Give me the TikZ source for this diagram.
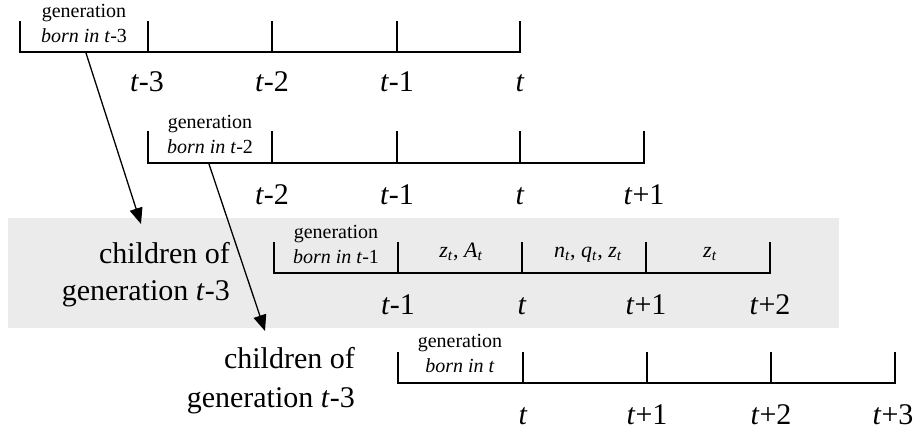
\documentclass[tikz,border=0pt]{standalone}
\usepackage{fontspec}
\setmainfont{Liberation Serif}
\usetikzlibrary{arrows.meta}
\definecolor{band}{RGB}{235,235,235}
\newcommand{\bigf}{\fontsize{30}{34}\selectfont}
\newcommand{\smallf}{\fontsize{20}{22}\selectfont}
\newcommand{\mathf}{\fontsize{22}{24}\selectfont}
\newcommand{\mvar}[2]{\textit{#1}\textsubscript{\textit{#2}}}
\begin{document}
\begin{tikzpicture}[x=1pt,y=-1pt,
  tl/.style={line width=1.6pt},
  arr/.style={line width=1.3pt,-{Triangle[length=16pt,width=13pt]}},
  big/.style={font=\bigf,anchor=base,inner sep=0pt},
  bigr/.style={font=\bigf,anchor=base east,inner sep=0pt},
  sm/.style={font=\smallf,anchor=base,inner sep=0pt},
  mth/.style={font=\mathf,anchor=base,inner sep=0pt}]
\useasboundingbox (0,0) rectangle (917,432);
\fill[band] (8,218) rectangle (839,328);
% row 1
\draw[tl] (20,21) -- (20,52) -- (520,52) -- (520,21);
\foreach \x in {148,272,397} \draw[tl] (\x,21) -- (\x,52);
\node[sm] (g1a) at (84,17) {generation};
\node[sm] (g1b) at (84,42) {\textit{born in t}-3};
\node[big] (l1a) at (147,91) {\textit{t}-3};
\node[big] (l1b) at (272,91) {\textit{t}-2};
\node[big] (l1c) at (397,91) {\textit{t}-1};
\node[big] (l1d) at (520,91) {\textit{t}};
% row 2
\draw[tl] (148,131) -- (148,163) -- (644,163) -- (644,131);
\foreach \x in {272,397,520} \draw[tl] (\x,131) -- (\x,163);
\node[sm] (g2a) at (210,128) {generation};
\node[sm] (g2b) at (210,153) {\textit{born in t}-2};
\node[big] (l2a) at (272,204) {\textit{t}-2};
\node[big] (l2b) at (397,204) {\textit{t}-1};
\node[big] (l2c) at (520,204) {\textit{t}};
\node[big] (l2d) at (644,204) {\textit{t}+1};
% row 3
\draw[tl] (274,242) -- (274,273) -- (770,273) -- (770,242);
\foreach \x in {398,522,646} \draw[tl] (\x,242) -- (\x,273);
\node[sm] (g3a) at (336,238) {generation};
\node[sm] (g3b) at (336,263) {\textit{born in t}-1};
\node[mth] (m1) at (461,257) {\mvar{z}{t}, \mvar{A}{t}};
\node[mth] (m2) at (588,257) {\mvar{n}{t}, \mvar{q}{t}, \mvar{z}{t}};
\node[mth] (m3) at (710,257) {\mvar{z}{t}};
\node[big] (l3a) at (398,314) {\textit{t}-1};
\node[big] (l3b) at (522,314) {\textit{t}};
\node[big] (l3c) at (646,314) {\textit{t}+1};
\node[big] (l3d) at (770,314) {\textit{t}+2};
\node[bigr] (c1a) at (230,263) {children of};
\node[bigr] (c1b) at (230,300) {generation \textit{t}-3};
% row 4
\draw[tl] (398,352) -- (398,383) -- (895,383) -- (895,352);
\foreach \x in {523,647,771} \draw[tl] (\x,352) -- (\x,383);
\node[sm] (g4a) at (460,347) {generation};
\node[sm] (g4b) at (460,372) {\textit{born in t}};
\node[big] (l4a) at (523,424) {\textit{t}};
\node[big] (l4b) at (647,424) {\textit{t}+1};
\node[big] (l4c) at (771,424) {\textit{t}+2};
\node[big] (l4d) at (893,424) {\textit{t}+3};
\node[bigr] (c2a) at (355,368) {children of};
\node[bigr] (c2b) at (355,407) {generation \textit{t}-3};
% arrows
\coordinate (a1s) at (86,53);
\coordinate (a1e) at (141,224);
\coordinate (a2s) at (209,164);
\coordinate (a2e) at (265,331);
\draw[arr] (a1s) -- (a1e);
\draw[arr] (a2s) -- (a2e);
\end{tikzpicture}
\end{document}
